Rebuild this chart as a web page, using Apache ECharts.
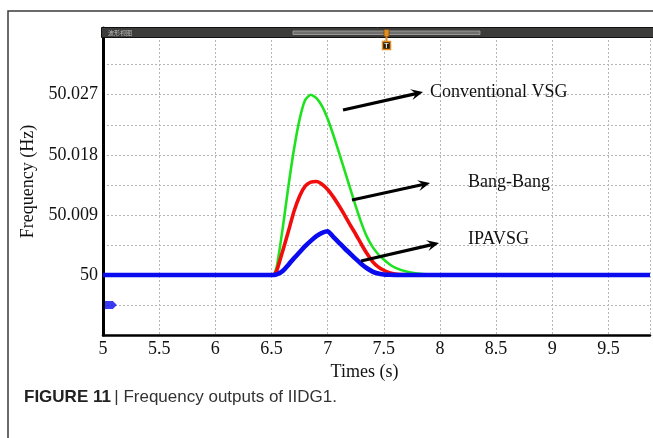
<!DOCTYPE html>
<html><head><meta charset="utf-8">
<script src="https://cdn.jsdelivr.net/npm/echarts@6/dist/echarts.min.js"></script>
<style>html,body{margin:0;padding:0;background:#fff}#c{width:653px;height:438px}</style>
</head><body><div id="c"></div>
<script>
// ---- data ----
const times = [5, 6.5, 6.52, 6.55, 6.6, 6.65, 6.7, 6.75, 6.8, 6.85, 6.9, 6.95, 7.0, 7.05, 7.1, 7.15, 7.2, 7.25, 7.3, 7.35, 7.4, 7.45, 7.5, 7.55, 7.6, 7.7, 7.8, 7.9, 8.0, 9.87];
const conventionalVSG = [50, 50, 50, 50.0015, 50.0070, 50.0132, 50.0188, 50.0233, 50.0262, 50.0270, 50.0265, 50.0253, 50.0234, 50.0210, 50.0184, 50.0157, 50.0130, 50.0103, 50.0078, 50.0057, 50.0042, 50.0031, 50.0023, 50.0016, 50.0011, 50.0005, 50.0002, 50.00005, 50, 50];
const bangBang = [50, 50, 50, 50.0008, 50.0036, 50.0065, 50.0095, 50.0118, 50.0133, 50.0139, 50.0140, 50.0136, 50.0128, 50.0117, 50.0104, 50.0090, 50.0075, 50.0061, 50.0046, 50.0032, 50.0020, 50.0012, 50.0007, 50.00035, 50.00015, 50.00003, 50, 50, 50, 50];
const ipavsg = [50, 50, 50, 50.0001, 50.0006, 50.0015, 50.0025, 50.0034, 50.0043, 50.0051, 50.0058, 50.0063, 50.00655, 50.0057, 50.00485, 50.0040, 50.0032, 50.0024, 50.00165, 50.0010, 50.0005, 50.0002, 50.00007, 50.00002, 50, 50, 50, 50, 50, 50];
const seriesNames = ['Conventional VSG', 'Bang-Bang', 'IPAVSG'];
const xTickLabels = ['5', '5.5', '6', '6.5', '7', '7.5', '8', '8.5', '9', '9.5'];
const yTickLabels = ['50', '50.009', '50.018', '50.027'];
const leftMarker = [[5.07, 49.9955]];

const serif = 'Liberation Serif';
const chart = echarts.init(document.getElementById('c'), null, {renderer: 'canvas'});

function arrow(x1, y1, x2, y2) {
  const a = Math.atan2(y2 - y1, x2 - x1), L = 12, W = 5.5;
  const c = Math.cos(a), s = Math.sin(a);
  const bx = x2 - L * c, by = y2 - L * s;
  const nx = -s, ny = c;
  return [
    {type: 'line', z: 50, shape: {x1: x1, y1: y1, x2: x2 - 6 * c, y2: y2 - 6 * s}, style: {stroke: '#000', lineWidth: 3.2}},
    {type: 'polygon', z: 50, shape: {points: [[x2, y2], [bx + nx * W, by + ny * W], [x2 - 0.6 * L * c, y2 - 0.6 * L * s], [bx - nx * W, by - ny * W]]}, style: {fill: '#000'}}
  ];
}

function pairs(vals) { return times.map((t, i) => [t, vals[i]]); }

const option = {
  animation: false,
  backgroundColor: '#fff',
  grid: {left: 103, right: 0, top: 28, bottom: 103, containLabel: false},
  xAxis: {
    type: 'value', min: 5, max: 9.87, interval: 0.5,
    axisLine: {show: true, onZero: false, lineStyle: {color: '#000', width: 2.5}},
    axisTick: {show: false},
    splitLine: {show: true, lineStyle: {type: [2, 2], color: '#b5b5b5', width: 1}},
    axisLabel: {
      margin: 5, fontFamily: serif, fontSize: 18, color: '#111',
      formatter: v => { const s = String(+(+v).toFixed(2)); return xTickLabels.includes(s) ? s : ''; }
    },
    name: 'Times (s)', nameLocation: 'middle', nameGap: 24,
    nameTextStyle: {fontFamily: serif, fontSize: 18, color: '#111', padding: [0, 24, 0, 0]}
  },
  yAxis: {
    type: 'value', min: 49.991, max: 50.037, interval: 0.0045,
    axisLine: {show: true, onZero: false, lineStyle: {color: '#000', width: 3}},
    axisTick: {show: false},
    splitLine: {show: true, lineStyle: {type: [2, 2], color: '#b5b5b5', width: 1}},
    axisLabel: {
      margin: 5, fontFamily: serif, fontSize: 18, color: '#111',
      formatter: v => { const s = String(+(+v).toFixed(4)); return yTickLabels.includes(s) ? s : ''; }
    },
    name: 'Frequency (Hz)', nameLocation: 'middle', nameGap: 59,
    nameTextStyle: {fontFamily: serif, fontSize: 18, color: '#111'}
  },
  series: [
    {name: seriesNames[0], type: 'line', data: pairs(conventionalVSG), showSymbol: false, smooth: 0.2,
     lineStyle: {color: '#1fe21f', width: 2.6, join: 'round'}, itemStyle: {color: '#1fe21f'}, z: 2},
    {name: seriesNames[1], type: 'line', data: pairs(bangBang), showSymbol: false, smooth: 0.2,
     lineStyle: {color: '#f20d0d', width: 3.6, join: 'round'}, itemStyle: {color: '#f20d0d'}, z: 3},
    {name: seriesNames[2], type: 'line', data: pairs(ipavsg), showSymbol: false, smooth: 0.2,
     lineStyle: {color: '#0b0bef', width: 4.6, join: 'round'}, itemStyle: {color: '#0b0bef'}, z: 4},
    {name: 'marker', type: 'scatter', data: leftMarker, symbol: 'path://M0,0 L8,0 L12,4 L8,8 L0,8 Z', symbolSize: [12, 8],
     itemStyle: {color: '#0b0bef'}, z: 5, silent: true}
  ],
  graphic: [
    // outer figure frame
    {type: 'polyline', z: 1, shape: {points: [[8, 445], [8, 11], [660, 11]]}, style: {stroke: '#3a3a3a', lineWidth: 1.5, fill: null}},
    // scope title bar
    {type: 'rect', z: 40, shape: {x: 101.5, y: 27.5, width: 560, height: 10}, style: {fill: '#3c3c3a', stroke: '#111', lineWidth: 1}},
    {type: 'rect', z: 41, shape: {x: 293, y: 31, width: 187, height: 3.5}, style: {fill: '#6e6e6c', stroke: '#a8a8a6', lineWidth: 0.8}},
    {type: 'text', z: 41, style: {x: 108, y: 32.5, text: '波形视图', fontSize: 6, fontFamily: 'Noto Sans CJK SC', fill: '#bdbdbd', verticalAlign: 'middle'}},
    // cursor marker
    {type: 'rect', z: 42, shape: {x: 384, y: 29.5, width: 5, height: 7}, style: {fill: '#e38e22', stroke: '#7a4a10', lineWidth: 0.8}},
    {type: 'line', z: 42, shape: {x1: 386.5, y1: 36.5, x2: 386.5, y2: 41.5}, style: {stroke: '#e38e22', lineWidth: 2}},
    {type: 'rect', z: 42, shape: {x: 382.5, y: 41.5, width: 8, height: 8}, style: {fill: '#2a1a08', stroke: '#e38e22', lineWidth: 1.5}},
    {type: 'text', z: 43, style: {x: 386.5, y: 45.8, text: 'T', fontSize: 7, fontWeight: 'bold', fontFamily: 'Liberation Sans', fill: '#f0f0f0', align: 'center', verticalAlign: 'middle'}},
    // annotations
    ...arrow(343, 110, 423, 92),
    ...arrow(352, 200, 430, 183),
    ...arrow(361, 261, 439, 243),
    {type: 'text', z: 50, style: {x: 430, y: 92, text: seriesNames[0], fontFamily: serif, fontSize: 18, fill: '#111', verticalAlign: 'middle'}},
    {type: 'text', z: 50, style: {x: 468, y: 182, text: seriesNames[1], fontFamily: serif, fontSize: 18, fill: '#111', verticalAlign: 'middle'}},
    {type: 'text', z: 50, style: {x: 468, y: 239, text: seriesNames[2], fontFamily: serif, fontSize: 18, fill: '#111', verticalAlign: 'middle'}},
    // caption
    {type: 'text', z: 50, style: {
      x: 24, y: 397, verticalAlign: 'middle',
      text: '{b|FIGURE 11} {p|| Frequency outputs of IIDG1.}',
      rich: {
        b: {fontFamily: 'Liberation Sans', fontSize: 17, fontWeight: 'bold', fill: '#222'},
        p: {fontFamily: 'Liberation Sans', fontSize: 17, fill: '#333'}
      }
    }}
  ]
};
chart.setOption(option);
</script>
</body></html>
